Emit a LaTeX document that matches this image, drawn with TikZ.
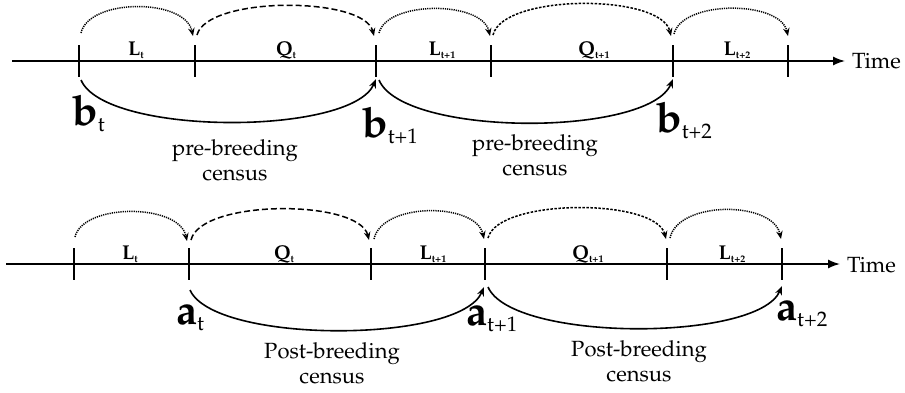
\documentclass[tikz,border=0pt]{standalone}
\usepackage[T1]{fontenc}
\usepackage{mathpazo}
\usetikzlibrary{arrows.meta}
\newcommand\seglab[2]{{\fontsize{20}{20}\selectfont\bfseries #1}\raisebox{-3.5pt}{\fontsize{10}{10}\selectfont\bfseries #2}}
\newcommand\stagelab[2]{{\fontsize{42}{42}\selectfont\bfseries #1}\raisebox{-6pt}{\fontsize{21}{21}\selectfont #2}}
\tikzset{
  axisline/.style={line width=1.5pt,-{Latex[length=12pt,width=9pt]}},
  tickmark/.style={line width=2.8pt},
  hopdot/.style={line width=1.5pt,dash pattern=on 1.2pt off 1pt,-{Stealth[length=8pt,width=6.5pt]}},
  hopdash/.style={line width=1.5pt,dash pattern=on 6pt off 3pt,-{Stealth[length=8pt,width=6.5pt]}},
  hopdense/.style={line width=1.5pt,dash pattern=on 2.5pt off 1.5pt,-{Stealth[length=8pt,width=6.5pt]}},
  census/.style={line width=1.6pt,-{Stealth[length=9pt,width=7pt]}},
  lab/.style={inner sep=0pt,anchor=base},
  txt/.style={inner sep=0pt,font=\fontsize{22}{25}\selectfont,align=center,anchor=base},
}
\begin{document}
\begin{tikzpicture}[x=1pt,y=-1pt]
\useasboundingbox (0,0) rectangle (905,392);

% ===== top (pre-breeding) =====
\coordinate (ta0) at (12,61);
\coordinate (ta1) at (845,61);
\draw[axisline] (ta0) -- (ta1);
\node[lab,anchor=base west,font=\fontsize{22}{22}\selectfont] (ttime) at (852,68) {Time};
\foreach \x in {79,195,376,491,673,788}{
  \draw[tickmark] (\x,45) -- (\x,77);
}
\node[lab] (tL1) at (136,55) {\seglab{L}{t}};
\node[lab] (tQ1) at (286,55) {\seglab{Q}{t}};
\node[lab] (tL2) at (442,55) {\seglab{L}{t+1}};
\node[lab] (tQ2) at (594,55) {\seglab{Q}{t+1}};
\node[lab] (tL3) at (737,55) {\seglab{L}{t+2}};

\coordinate (p1) at (81,33);  \coordinate (p2) at (193,36);
\coordinate (p3) at (197,35); \coordinate (p4) at (374,36);
\coordinate (p5) at (379,33); \coordinate (p6) at (490,36);
\coordinate (p7) at (493,35); \coordinate (p8) at (671,36);
\coordinate (p9) at (674,34); \coordinate (p10) at (788,36);
\draw[hopdot]   (p1) .. controls (89,-2) and (185,-2) .. (p2);
\draw[hopdash]  (p3) .. controls (207,-4) and (364,-4) .. (p4);
\draw[hopdot]   (p5) .. controls (387,0.5) and (482,0.5) .. (p6);
\draw[hopdense] (p7) .. controls (503,-6.5) and (661,-6.5) .. (p8);
\draw[hopdot]   (p9) .. controls (682,0) and (780,0) .. (p10);

\coordinate (q1) at (81,80);  \coordinate (q2) at (376,79);
\coordinate (q3) at (379,80); \coordinate (q4) at (673,79);
\draw[census] (q1) .. controls (105,136) and (352,136) .. (q2);
\draw[census] (q3) .. controls (403,137) and (649,137) .. (q4);

\node[lab,anchor=base west] (b0) at (72,125) {\stagelab{b}{t}};
\node[lab,anchor=base west] (b1) at (362,137) {\stagelab{b}{t+1}};
\node[lab,anchor=base west] (b2) at (656,132) {\stagelab{b}{t+2}};
\node[txt] (pre1) at (235,180) {pre-breeding\\census};
\node[txt] (pre2) at (535,175) {pre-breeding\\census};

% ===== bottom (post-breeding) =====
\coordinate (ba0) at (6,264);
\coordinate (ba1) at (840,264);
\draw[axisline] (ba0) -- (ba1);
\node[lab,anchor=base west,font=\fontsize{22}{22}\selectfont] (btime) at (847,272) {Time};
\foreach \x in {74,189,371,485,667,782}{
  \draw[tickmark] (\x,248) -- (\x,280);
}
\node[lab] (bL1) at (130,259) {\seglab{L}{t}};
\node[lab] (bQ1) at (284,259) {\seglab{Q}{t}};
\node[lab] (bL2) at (433,259) {\seglab{L}{t+1}};
\node[lab] (bQ2) at (588,259) {\seglab{Q}{t+1}};
\node[lab] (bL3) at (732,259) {\seglab{L}{t+2}};

\coordinate (r1) at (75,237);  \coordinate (r2) at (187,241);
\coordinate (r3) at (191,240); \coordinate (r4) at (369,240);
\coordinate (r5) at (374,239); \coordinate (r6) at (484,239);
\coordinate (r7) at (488,238); \coordinate (r8) at (666,239);
\coordinate (r9) at (670,238); \coordinate (r10) at (781,239);
\draw[hopdot]   (r1) .. controls (83,203) and (179,203) .. (r2);
\draw[hopdash]  (r3) .. controls (201,199) and (359,199) .. (r4);
\draw[hopdot]   (r5) .. controls (382,202) and (476,202) .. (r6);
\draw[hopdense] (r7) .. controls (498,198) and (656,198) .. (r8);
\draw[hopdot]   (r9) .. controls (678,200.5) and (773,200.5) .. (r10);

\coordinate (s1) at (190,290); \coordinate (s2) at (484,287);
\coordinate (s3) at (488,287); \coordinate (s4) at (782,286);
\draw[census] (s1) .. controls (214,344) and (460,344) .. (s2);
\draw[census] (s3) .. controls (512,342) and (758,342) .. (s4);

\node[lab,anchor=base west] (a0) at (176,324) {\stagelab{a}{t}};
\node[lab,anchor=base west] (a1) at (466,325) {\stagelab{a}{t+1}};
\node[lab,anchor=base west] (a2) at (776,320) {\stagelab{a}{t+2}};
\node[txt] (post1) at (332,383) {Post-breeding\\census};
\node[txt] (post2) at (639,381) {Post-breeding\\census};
\end{tikzpicture}
\end{document}
